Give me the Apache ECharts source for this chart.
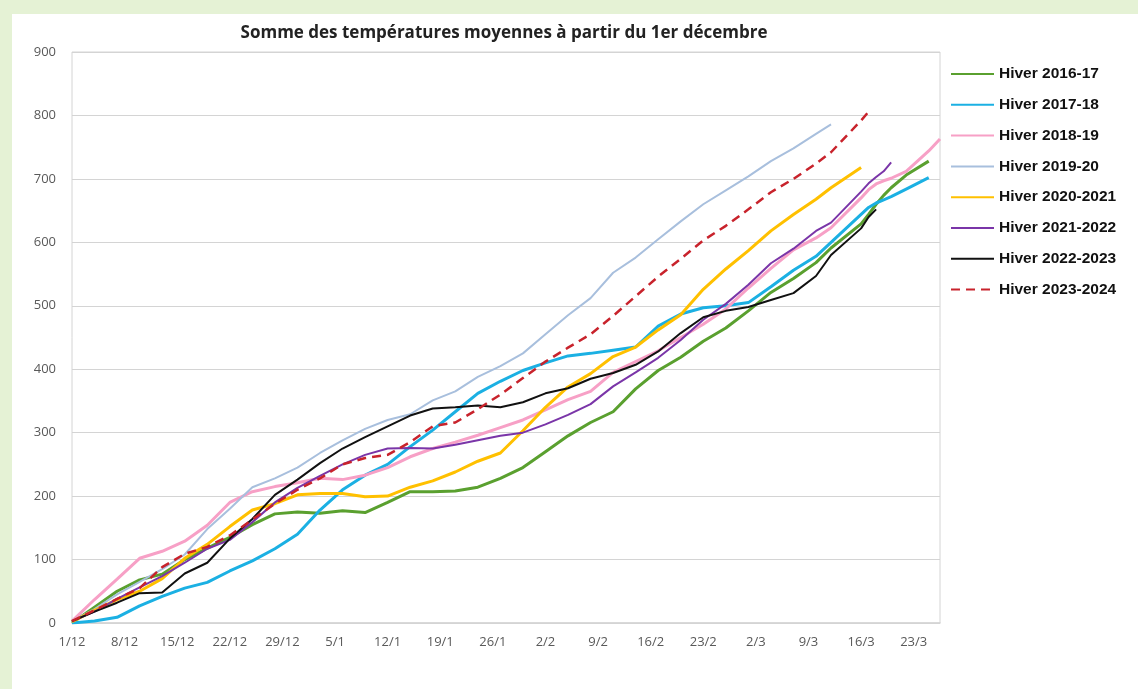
<!DOCTYPE html>
<html>
<head>
<meta charset="utf-8">
<script src="https://cdn.jsdelivr.net/npm/echarts@6/dist/echarts.min.js"></script>
<style>
html,body{margin:0;padding:0;width:1138px;height:689px;background:#e5f2d5;overflow:hidden;}
#panel{position:absolute;left:12px;top:14px;width:1126px;height:675px;background:#ffffff;}
#chart{position:absolute;left:0;top:0;width:1138px;height:689px;}
</style>
</head>
<body>
<div id="panel"></div>
<div id="chart"></div>
<script>
// Day index from 1 December
const DAYS = [0,3,6,9,12,15,18,21,24,27,30,33,36,39,42,45,48,51,54,57,60,63,66,69,72,75,78,81,84,87,90,93,96,99,101,105,106,107,108,109,111,114,115.5];
const TICK_LABELS = ['1/12','8/12','15/12','22/12','29/12','5/1','12/1','19/1','26/1','2/2','9/2','16/2','23/2','2/3','9/3','16/3','23/3'];
const SERIES_NAMES = ['Hiver 2016-17','Hiver 2017-18','Hiver 2018-19','Hiver 2019-20','Hiver 2020-2021','Hiver 2021-2022','Hiver 2022-2023','Hiver 2023-2024'];

const H2016 = [0,25,50,68,77,100,118,135,155,172,175,173,177,174,190,207,207,208,214,228,245,270,295,316,333,369,398,419,444,465,492,521,543,568,591,629,644,660,674,686,706,728,null];
const H2017 = [0,3,9,27,42,55,64,82,98,117,140,178,210,233,250,278,304,333,362,381,398,410,421,425,430,435,468,487,497,500,505,530,556,578,600,644,655,662,667,672,684,702,null];
const H2018 = [3,37,69,102,113,129,154,190,207,215,221,228,226,233,245,262,275,285,296,308,320,336,352,365,395,412,429,450,471,495,528,559,588,607,623,670,683,692,697,701,712,744,763];
const H2019 = [3,22,45,65,85,108,148,180,214,228,245,268,288,306,320,329,351,365,388,405,425,455,485,512,552,576,605,633,660,682,704,728,748,771,786,null,null,null,null,null,null,null,null];
const H2020 = [2,20,37,50,70,102,124,152,178,188,202,204,204,199,200,214,224,238,255,268,303,340,372,393,420,435,462,486,526,558,587,618,644,668,686,718,null,null,null,null,null,null,null];
const H2021 = [3,18,38,56,74,95,117,131,159,190,213,232,250,265,275,276,275,281,288,295,300,313,328,345,373,395,418,446,478,503,533,567,590,618,631,680,693,703,712,726,null,null,null];
const H2022 = [3,18,32,47,48,78,95,133,164,202,226,252,275,293,310,327,338,340,343,340,348,362,370,385,394,407,428,457,482,492,498,509,520,547,580,622,640,652,null,null,null,null,null];
const H2023 = [3,20,38,55,88,109,120,138,163,188,210,228,250,260,265,285,310,316,337,360,386,412,434,455,484,515,546,574,603,626,652,679,700,724,742,792,806,null,null,null,null,null,null];

const VALUES = [H2016,H2017,H2018,H2019,H2020,H2021,H2022,H2023];
const COLORS = ['#5aa02f','#1bb0e3','#f7a0c6','#a8bfdd','#ffc000','#7a35a8','#111111','#c8232c'];
const WIDTHS = [3,3,3,2,3,2,2,2.5];
const TYPES = ['solid','solid','solid','solid','solid','solid','solid',[9,6]];

const toPairs = vals => DAYS.map((d,i)=>[d, vals[i]]).filter(p => p[1] !== null);

const chart = echarts.init(document.getElementById('chart'), null, {renderer:'canvas'});
chart.setOption({
  backgroundColor: 'transparent',
  animation: false,
  title: {
    text: 'Somme des températures moyennes à partir du 1er décembre',
    left: 504, top: 25, textAlign: 'center', padding: 0,
    textStyle: {fontFamily: 'Open Sans', fontWeight: 'bold', fontSize: 17, color: '#222222'}
  },
  legend: {
    orient: 'vertical', left: 950, top: 66, padding: 0,
    itemWidth: 43, itemHeight: 14, itemGap: 14.8,
    data: SERIES_NAMES,
    itemStyle: {opacity: 0},
    textStyle: {fontFamily: 'Liberation Sans', fontWeight: 'bold', fontSize: 15.5, color: '#111111', lineHeight: 14}
  },
  grid: {left: 72, right: 198, top: 52, bottom: 66, show: true, borderColor: '#d4d4d4', borderWidth: 1},
  xAxis: {
    type: 'value', min: 0, max: 115.5, interval: 7,
    axisLine: {show: true, lineStyle: {color: '#d4d4d4', width: 1.5}},
    axisTick: {show: false},
    splitLine: {show: false},
    axisLabel: {
      margin: 13, color: '#595959', fontFamily: 'Open Sans', fontSize: 13, showMaxLabel: false,
      formatter: v => (v % 7 === 0 && TICK_LABELS[v/7]) ? TICK_LABELS[v/7] : ''
    }
  },
  yAxis: {
    type: 'value', min: 0, max: 900, interval: 100,
    axisLine: {show: false}, axisTick: {show: false},
    splitLine: {lineStyle: {color: '#d4d4d4', width: 1}},
    axisLabel: {margin: 16, color: '#595959', fontFamily: 'Open Sans', fontSize: 13}
  },
  series: VALUES.map((vals, i) => ({
    name: SERIES_NAMES[i], type: 'line', data: toPairs(vals),
    symbol: 'none', showSymbol: false,
    lineStyle: {color: COLORS[i], width: WIDTHS[i], type: TYPES[i]},
    itemStyle: {color: COLORS[i]}
  }))
});
</script>
</body>
</html>
